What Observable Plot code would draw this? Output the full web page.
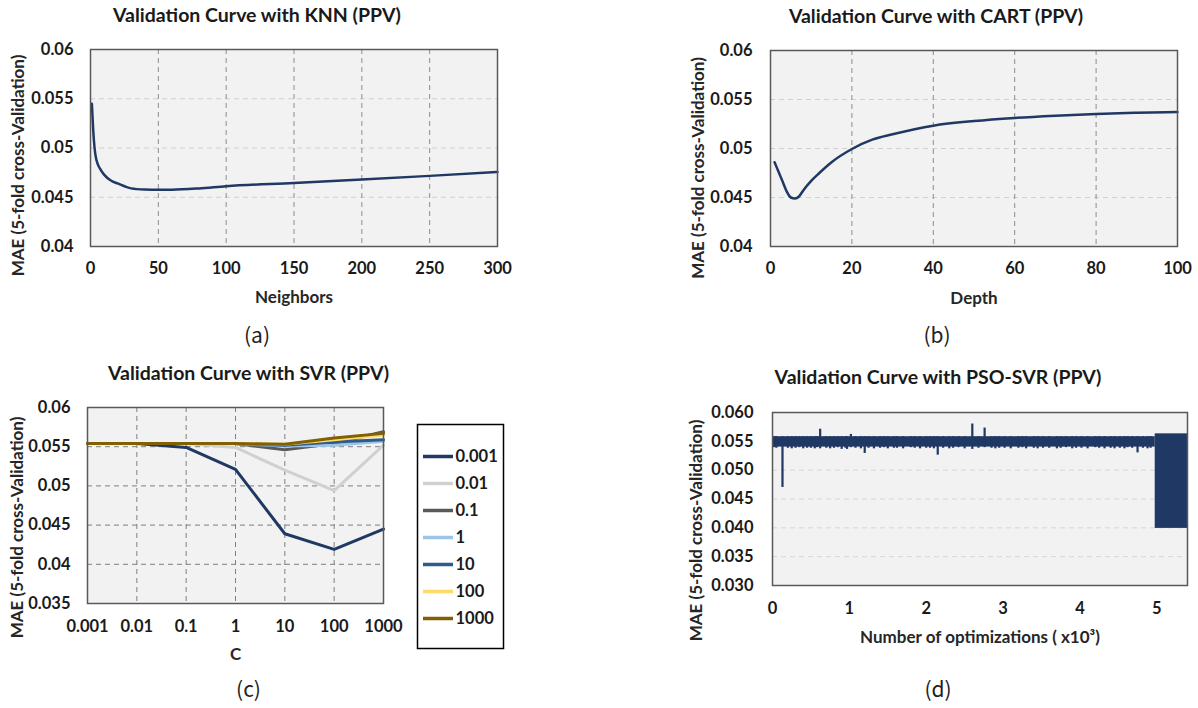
<!DOCTYPE html>
<html><head><meta charset="utf-8">
<script src="https://cdn.jsdelivr.net/npm/d3@7"></script>
<script src="https://cdn.jsdelivr.net/npm/@observablehq/plot@0.6"></script>
<style>
body{margin:0;background:#fff;}
#root{position:relative;width:1198px;height:708px;overflow:hidden;background:#fff;}
.panel{position:absolute;}
.panel svg{max-width:none;}
</style></head><body><div id="root"></div>
<script>
// ---------------- data ----------------
const knnNeighbors = [1,2,3,4,5,7,10,15,20,30,40,50,60,80,100,150,200,250,300];
const knnMAE = [0.0545,0.0518,0.0500,0.0490,0.0485,0.0479,0.0473,0.0467,0.0464,0.0459,0.04578,0.04575,0.04576,0.0459,0.04612,0.04645,0.0468,0.04717,0.04757];

const cartDepth = [1,2,3,4,5,6,7,8,10,12,15,20,25,30,40,50,60,70,80,90,100];
const cartMAE = [0.0486,0.0476,0.0466,0.0456,0.0450,0.0449,0.0451,0.0457,0.0467,0.0475,0.0486,0.04995,0.0509,0.05145,0.05233,0.0528,0.05312,0.05335,0.05353,0.05365,0.05373];

const svrC = [0.001,0.01,0.1,1,10,100,1000];
const svrGammas = ["0.001","0.01","0.1","1","10","100","1000"];
const svrColors = ["#203864","#d0d0d0","#595959","#9dc3e6","#2e5a8c","#ffd966","#806000"];
const svrG0001 = [0.0554,0.0554,0.0549,0.0521,0.0439,0.0419,0.0445];
const svrG001  = [0.0554,0.0554,0.0554,0.0549,0.0520,0.0494,0.0552];
const svrG01   = [0.0554,0.0554,0.0554,0.0554,0.0546,0.0554,0.0569];
const svrG1    = [0.0554,0.0554,0.0554,0.0554,0.0551,0.0552,0.0557];
const svrG10   = [0.0554,0.0554,0.0554,0.0554,0.0552,0.0556,0.0559];
const svrG100  = [0.0554,0.0554,0.0554,0.0554,0.0553,0.0559,0.0565];
const svrG1000 = [0.0554,0.0554,0.0554,0.0554,0.0553,0.0561,0.0567];
const svrSeries = [svrG0001,svrG001,svrG01,svrG1,svrG10,svrG100,svrG1000];

// PSO-SVR: envelope of the dense trace (x in thousands of optimizations)
const psoBlockX1 = [0.00, 4.98];
const psoBlockX2 = [4.98, 5.40];
const psoBlockLo = [0.0540, 0.0399];
const psoBlockHi = [0.0558, 0.0563];
const psoSpikeX  = [0.02,0.05,0.13,0.20,0.25,0.30,0.35,0.40,0.45,0.50,0.55,0.58,0.62,0.70,0.75,0.80,0.85,0.90,0.95,0.97,1.02,1.08,1.15,1.20,1.25,1.32,1.40,1.45,1.50,1.58,1.62,1.70,1.80,1.85,1.92,2.00,2.05,2.10,2.15,2.22,2.30,2.35,2.42,2.50,2.60,2.68,2.76,2.85,2.90,2.95,3.02,3.10,3.20,3.25,3.30,3.40,3.45,3.52,3.60,3.70,3.75,3.82,3.90,3.95,4.02,4.10,4.20,4.25,4.32,4.40,4.45,4.52,4.58,4.62,4.68,4.75,4.82,4.88,4.92];
const psoSpikeLo = [0.0539,0.0538,0.0470,0.0538,0.0537,0.0538,0.0539,0.0537,0.0538,0.0538,0.0537,0.0539,0.0537,0.0538,0.0537,0.0538,0.0539,0.0536,0.0538,0.0536,0.0539,0.0538,0.0537,0.0529,0.0538,0.0537,0.0538,0.0539,0.0537,0.0538,0.0538,0.0537,0.0539,0.0538,0.0537,0.0538,0.0538,0.0537,0.0526,0.0538,0.0537,0.0538,0.0539,0.0537,0.0536,0.0538,0.0539,0.0538,0.0537,0.0538,0.0538,0.0537,0.0538,0.0539,0.0537,0.0538,0.0537,0.0538,0.0538,0.0537,0.0538,0.0539,0.0537,0.0538,0.0538,0.0537,0.0539,0.0538,0.0537,0.0538,0.0537,0.0538,0.0537,0.0539,0.0538,0.0530,0.0538,0.0537,0.0538];
const psoSpikeHi = [0.0558,0.0558,0.0558,0.0558,0.0558,0.0558,0.0558,0.0558,0.0558,0.0558,0.0558,0.0558,0.0571,0.0558,0.0558,0.0558,0.0558,0.0558,0.0558,0.0558,0.0562,0.0558,0.0558,0.0558,0.0558,0.0558,0.0558,0.0558,0.0558,0.0558,0.0558,0.0558,0.0558,0.0558,0.0558,0.0558,0.0558,0.0558,0.0558,0.0558,0.0558,0.0558,0.0558,0.0558,0.0580,0.0558,0.0573,0.0558,0.0558,0.0558,0.0558,0.0558,0.0558,0.0558,0.0558,0.0558,0.0558,0.0558,0.0558,0.0558,0.0558,0.0558,0.0558,0.0558,0.0558,0.0558,0.0558,0.0558,0.0558,0.0558,0.0558,0.0558,0.0558,0.0558,0.0558,0.0558,0.0558,0.0558,0.0558];

// ---------------- helpers ----------------
const root = document.getElementById("root");
const FONT = "Lato, 'Open Sans', sans-serif";
const NAVY = "#203864";
const INK = "#1a1a1a";
function place(el, left, top) {
  const d = document.createElement("div");
  d.className = "panel"; d.style.left = left + "px"; d.style.top = top + "px";
  d.appendChild(el); root.appendChild(d);
}
const baseStyle = {fontFamily: FONT, fontSize: "16.5px", fontWeight: "bold", color: INK, background: "transparent", overflow: "visible"};
const fmtShort = d => String(+d.toFixed(3));
function decor({title, tdx, tdy, xlabel, xdy, ylabel, ydx, ydy, caption, cdy, cdx}) {
  return [
    Plot.text([title], {frameAnchor: "top", dx: tdx, dy: tdy, textAnchor: "middle", lineAnchor: "middle", fontSize: 19.5, fontWeight: "bold", fill: INK}),
    Plot.text([xlabel], {frameAnchor: "bottom", dy: xdy, textAnchor: "middle", lineAnchor: "middle", fontSize: 17, fontWeight: "bold", fill: "#262626"}),
    Plot.text([ylabel], {frameAnchor: "left", dx: ydx, dy: ydy, rotate: -90, textAnchor: "middle", lineAnchor: "middle", fontSize: 17, fontWeight: "bold", fill: "#262626"}),
    Plot.text([caption], {frameAnchor: "bottom", dx: cdx || 0, dy: cdy, textAnchor: "middle", lineAnchor: "middle", fontSize: 21, fontWeight: "normal", fontFamily: "'Noto Sans CJK KR', 'Noto Sans', sans-serif", fill: "#222"})
  ];
}
const YLAB = "MAE (5-fold cross-Validation)";

// ---------------- (a) KNN ----------------
const knnData = knnNeighbors.map((k, i) => ({k, mae: knnMAE[i]}));
place(Plot.plot({
  width: 599, height: 354,
  marginLeft: 90, marginTop: 49, marginRight: 102, marginBottom: 108,
  style: baseStyle,
  x: {domain: [0, 300]},
  y: {domain: [0.04, 0.06]},
  marks: [
    Plot.frame({fill: "#f2f2f2", stroke: null}),
    Plot.gridY({ticks: [0.045, 0.05, 0.055], stroke: "#d0d0d0", strokeOpacity: 1, strokeDasharray: "5,4"}),
    Plot.gridX({ticks: [50, 100, 150, 200, 250], stroke: "#8c8c8c", strokeOpacity: 1, strokeDasharray: "5,4"}),
    Plot.line(knnData, {x: "k", y: "mae", stroke: NAVY, strokeWidth: 2.5, curve: "monotone-x"}),
    Plot.frame({stroke: "#595959", strokeWidth: 1.5}),
    Plot.axisY({ticks: [0.04, 0.045, 0.05, 0.055, 0.06], tickFormat: fmtShort, tickSize: 0, tickPadding: 17, label: null}),
    Plot.axisX({ticks: [0, 50, 100, 150, 200, 250, 300], tickFormat: d => d, tickSize: 0, tickPadding: 16, label: null}),
    ...decor({title: "Validation Curve with KNN (PPV)", tdx: -37, tdy: -33.5, xlabel: "Neighbors", xdy: 51, ylabel: YLAB, ydx: -72, ydy: 17.5, caption: "(a)", cdy: 90, cdx: -37})
  ]
}), 0, 0);

// ---------------- (b) CART ----------------
const cartData = cartDepth.map((d, i) => ({depth: d, mae: cartMAE[i]}));
place(Plot.plot({
  width: 599, height: 354,
  marginLeft: 171, marginTop: 50, marginRight: 21, marginBottom: 108,
  style: baseStyle,
  x: {domain: [0, 100]},
  y: {domain: [0.04, 0.06]},
  marks: [
    Plot.frame({fill: "#f2f2f2", stroke: null}),
    Plot.gridY({ticks: [0.045, 0.05, 0.055], stroke: "#d0d0d0", strokeOpacity: 1, strokeDasharray: "5,4"}),
    Plot.gridX({ticks: [20, 40, 60, 80], stroke: "#8c8c8c", strokeOpacity: 1, strokeDasharray: "5,4"}),
    Plot.line(cartData, {x: "depth", y: "mae", stroke: NAVY, strokeWidth: 2.5, curve: "monotone-x"}),
    Plot.frame({stroke: "#595959", strokeWidth: 1.5}),
    Plot.axisY({ticks: [0.04, 0.045, 0.05, 0.055, 0.06], tickFormat: fmtShort, tickSize: 0, tickPadding: 18, label: null}),
    Plot.axisX({ticks: [0, 20, 40, 60, 80, 100], tickFormat: d => d, tickSize: 0, tickPadding: 16, label: null}),
    ...decor({title: "Validation Curve with CART (PPV)", tdx: -38, tdy: -33.7, xlabel: "Depth", xdy: 52, ylabel: YLAB, ydx: -72, ydy: 19.5, caption: "(b)", cdy: 90, cdx: -37})
  ]
}), 599, 0);

// ---------------- (c) SVR ----------------
const svrData = [];
svrGammas.forEach((g, gi) => svrC.forEach((c, ci) => svrData.push({C: c, gamma: g, mae: svrSeries[gi][ci]})));
place(Plot.plot({
  width: 599, height: 354,
  marginLeft: 87, marginTop: 53, marginRight: 216, marginBottom: 105,
  style: baseStyle,
  x: {type: "log", domain: [0.001, 1000]},
  y: {domain: [0.035, 0.06]},
  color: {domain: svrGammas, range: svrColors},
  marks: [
    Plot.frame({fill: "#f2f2f2", stroke: null}),
    Plot.gridY({ticks: [0.04, 0.045, 0.05, 0.055], stroke: "#7f7f7f", strokeOpacity: 1, strokeDasharray: "5,4"}),
    Plot.gridX({ticks: [0.01, 0.1, 1, 10, 100], stroke: "#7f7f7f", strokeOpacity: 1, strokeDasharray: "5,4"}),
    Plot.line(svrData, {x: "C", y: "mae", z: "gamma", stroke: "gamma", strokeWidth: 3}),
    Plot.frame({stroke: "#595959", strokeWidth: 1.5}),
    Plot.axisY({ticks: [0.035, 0.04, 0.045, 0.05, 0.055, 0.06], tickFormat: fmtShort, tickSize: 0, tickPadding: 17, label: null}),
    Plot.axisX({ticks: svrC, tickFormat: d => String(d), tickSize: 0, tickPadding: 17, label: null}),
    ...decor({title: "Validation Curve with SVR (PPV)", tdx: 13, tdy: -34, xlabel: "C", xdy: 51, ylabel: YLAB, ydx: -69.5, ydy: 22, caption: "(c)", cdy: 87, cdx: 13})
  ]
}), 0, 354);

// legend for (c)
place(Plot.plot({
  width: 88, height: 226,
  margin: 1,
  style: baseStyle,
  x: {domain: [0, 1], axis: null},
  y: {type: "point", domain: svrGammas, range: [18, 210], axis: null},
  color: {domain: svrGammas, range: svrColors},
  marks: [
    Plot.frame({fill: "#fff", stroke: "#000", strokeWidth: 1.5}),
    Plot.ruleY(svrGammas, {y: d => d, stroke: d => d, strokeWidth: 3.5, insetLeft: 6, insetRight: 50}),
    Plot.text(svrGammas, {y: d => d, frameAnchor: "left", dx: 38, textAnchor: "start", lineAnchor: "middle", fontSize: 16.5, fontWeight: "bold", fill: INK})
  ]
}), 416, 423);

// ---------------- (d) PSO-SVR ----------------
const psoBlocks = psoBlockX1.map((x1, i) => ({x1, x2: psoBlockX2[i], lo: psoBlockLo[i], hi: psoBlockHi[i]}));
const psoSpikes = psoSpikeX.map((x, i) => ({x, lo: psoSpikeLo[i], hi: psoSpikeHi[i]}));
place(Plot.plot({
  width: 599, height: 354,
  marginLeft: 173, marginTop: 58, marginRight: 11, marginBottom: 123,
  style: baseStyle,
  x: {domain: [0, 5.4]},
  y: {domain: [0.03, 0.06]},
  marks: [
    Plot.frame({fill: "#f2f2f2", stroke: null}),
    Plot.gridY({ticks: [0.035, 0.04, 0.045, 0.05, 0.055], stroke: "#d6d6d6", strokeOpacity: 1, strokeDasharray: "5,4"}),
    Plot.rect(psoBlocks, {x1: "x1", x2: "x2", y1: "lo", y2: "hi", fill: "#1f3864"}),
    Plot.ruleX(psoSpikes, {x: "x", y1: "lo", y2: "hi", stroke: "#1f3864", strokeWidth: 2.2}),
    Plot.frame({stroke: "#595959", strokeWidth: 1.5}),
    Plot.axisY({ticks: [0.03, 0.035, 0.04, 0.045, 0.05, 0.055, 0.06], tickFormat: d3.format(".3f"), tickSize: 0, tickPadding: 19, label: null}),
    Plot.axisX({ticks: [0, 1, 2, 3, 4, 5], tickFormat: d => d, tickSize: 0, tickPadding: 17, label: null}),
    ...decor({title: "Validation Curve with PSO-SVR (PPV)", tdx: -42, tdy: -35, xlabel: "Number of optimizations ( x10³)", xdy: 52, ylabel: YLAB, ydx: -75.5, ydy: 31.5, caption: "(d)", cdy: 105, cdx: -42})
  ]
}), 599, 354);
</script></body></html>
